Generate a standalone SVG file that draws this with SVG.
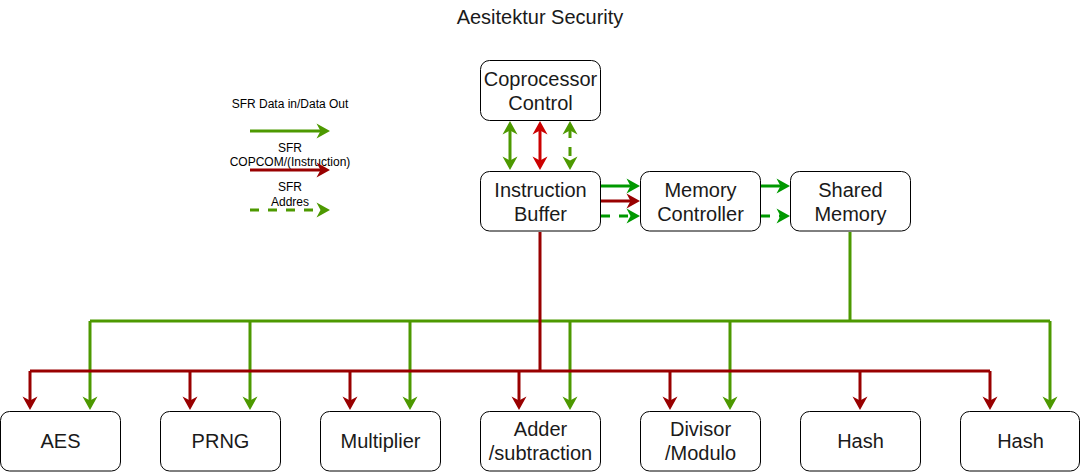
<svg xmlns="http://www.w3.org/2000/svg" width="1081" height="472" viewBox="0 0 1081 472">
<style>
.box{fill:#fff;stroke:#000;stroke-width:1}
.t{font-family:"Liberation Sans",Arial,sans-serif;font-size:20px;fill:#1a1a1a;text-anchor:middle}
.lg{font-family:"Liberation Sans",Arial,sans-serif;font-size:12px;fill:#000;text-anchor:middle}
.e{fill:none;stroke-width:3}
.olive{stroke:#4D9900}
.green{stroke:#009900}
.dred{stroke:#990000}
.bred{stroke:#CC0000}
.dash{stroke-dasharray:9 9}
</style>
<defs>
<marker id="mO" markerUnits="userSpaceOnUse" markerWidth="16" markerHeight="16" refX="6" refY="8" orient="auto-start-reverse"><path d="M14,8 L0.5,0.5 L4.5,8 L0.5,15.5 Z" fill="#4D9900"/></marker>
<marker id="mG" markerUnits="userSpaceOnUse" markerWidth="16" markerHeight="16" refX="6" refY="8" orient="auto-start-reverse"><path d="M14,8 L0.5,0.5 L4.5,8 L0.5,15.5 Z" fill="#009900"/></marker>
<marker id="mD" markerUnits="userSpaceOnUse" markerWidth="16" markerHeight="16" refX="6" refY="8" orient="auto-start-reverse"><path d="M14,8 L0.5,0.5 L4.5,8 L0.5,15.5 Z" fill="#990000"/></marker>
<marker id="mB" markerUnits="userSpaceOnUse" markerWidth="16" markerHeight="16" refX="6" refY="8" orient="auto-start-reverse"><path d="M14,8 L0.5,0.5 L4.5,8 L0.5,15.5 Z" fill="#CC0000"/></marker>
</defs>
<rect width="1081" height="472" fill="#fff"/>
<text class="t" x="540" y="24">Aesitektur Security</text>

<g id="legend">
<text class="lg" x="290" y="108">SFR Data in/Data Out</text>
<path class="e olive" d="M250,131 H322" marker-end="url(#mO)"/>
<text class="lg" x="290" y="152">SFR</text>
<text class="lg" x="290" y="166">COPCOM/(Instruction)</text>
<path class="e dred" d="M250,170 H322" marker-end="url(#mD)"/>
<text class="lg" x="290" y="191">SFR</text>
<text class="lg" x="290" y="206">Addres</text>
<path class="e olive dash" d="M250,210 H322" marker-end="url(#mO)"/>
</g>

<g id="connectors">
<path class="e olive" d="M510,129 V162" marker-start="url(#mO)" marker-end="url(#mO)"/>
<path class="e bred" d="M540,129 V162" marker-start="url(#mB)" marker-end="url(#mB)"/>
<path class="e olive dash" d="M570,129 V162" marker-start="url(#mO)" marker-end="url(#mO)"/>
<path class="e green" d="M601,186 H632" marker-end="url(#mG)"/>
<path class="e dred" d="M601,201 H632" marker-end="url(#mD)"/>
<path class="e green dash" d="M601,216 H632" marker-end="url(#mG)"/>
<path class="e green" d="M761,186 H782" marker-end="url(#mG)"/>
<path class="e green dash" d="M761,216 H782" marker-end="url(#mG)"/>

<path class="e olive" d="M850,232 V321 M90,321 H1050"/>
<path class="e olive" d="M90,321 V402" marker-end="url(#mO)"/>
<path class="e olive" d="M250,321 V402" marker-end="url(#mO)"/>
<path class="e olive" d="M410,321 V402" marker-end="url(#mO)"/>
<path class="e olive" d="M570,321 V402" marker-end="url(#mO)"/>
<path class="e olive" d="M730,321 V402" marker-end="url(#mO)"/>
<path class="e olive" d="M1050,321 V402" marker-end="url(#mO)"/>

<path class="e dred" d="M540,232 V371 M30,371 H990"/>
<path class="e dred" d="M30,371 V402" marker-end="url(#mD)"/>
<path class="e dred" d="M190,371 V402" marker-end="url(#mD)"/>
<path class="e dred" d="M350,371 V402" marker-end="url(#mD)"/>
<path class="e dred" d="M519,371 V402" marker-end="url(#mD)"/>
<path class="e dred" d="M670,371 V402" marker-end="url(#mD)"/>
<path class="e dred" d="M860,371 V402" marker-end="url(#mD)"/>
<path class="e dred" d="M990,371 V402" marker-end="url(#mD)"/>
</g>

<g id="coprocessor"><rect class="box" x="480.5" y="60.5" width="120" height="60" rx="9"/><text class="t" x="540.5" y="86">Coprocessor</text><text class="t" x="540.5" y="110">Control</text></g>
<g id="buffer"><rect class="box" x="480.5" y="171.5" width="120" height="59.5" rx="9"/><text class="t" x="540.5" y="197">Instruction</text><text class="t" x="540.5" y="221">Buffer</text></g>
<g id="memctrl"><rect class="box" x="640.5" y="171.5" width="120" height="59.5" rx="9"/><text class="t" x="700.5" y="197">Memory</text><text class="t" x="700.5" y="221">Controller</text></g>
<g id="sharedmem"><rect class="box" x="790.5" y="171.5" width="120" height="59.5" rx="9"/><text class="t" x="850.5" y="197">Shared</text><text class="t" x="850.5" y="221">Memory</text></g>

<g id="aes"><rect class="box" x="0.5" y="411.5" width="120" height="59.5" rx="9"/><text class="t" x="60.5" y="448">AES</text></g>
<g id="prng"><rect class="box" x="160.5" y="411.5" width="120" height="59.5" rx="9"/><text class="t" x="220.5" y="448">PRNG</text></g>
<g id="multiplier"><rect class="box" x="320.5" y="411.5" width="120" height="59.5" rx="9"/><text class="t" x="380.5" y="448">Multiplier</text></g>
<g id="adder"><rect class="box" x="480.5" y="411.5" width="120" height="59.5" rx="9"/><text class="t" x="540.5" y="436">Adder</text><text class="t" x="540.5" y="460">/subtraction</text></g>
<g id="divisor"><rect class="box" x="640.5" y="411.5" width="120" height="59.5" rx="9"/><text class="t" x="700.5" y="436">Divisor</text><text class="t" x="700.5" y="460">/Modulo</text></g>
<g id="hash1"><rect class="box" x="800.5" y="411.5" width="120" height="59.5" rx="9"/><text class="t" x="860.5" y="448">Hash</text></g>
<g id="hash2"><rect class="box" x="960.5" y="411.5" width="119" height="59.5" rx="9"/><text class="t" x="1020.5" y="448">Hash</text></g>
</svg>
